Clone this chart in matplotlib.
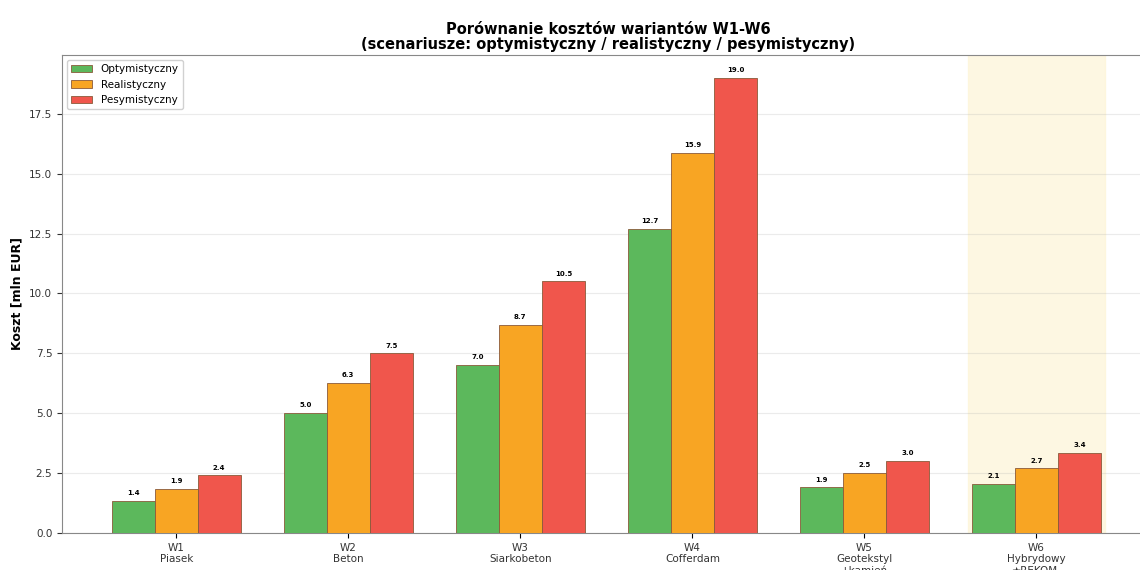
import numpy as np
import matplotlib
matplotlib.use('Agg')
import matplotlib.pyplot as plt

plt.rcParams['font.family'] = ['DejaVu Sans']

# dane
warianty = ['W1\nPiasek', 'W2\nBeton', 'W3\nSiarkobeton', 'W4\nCofferdam',
            'W5\nGeotekstyl\n+kamień', 'W6\nHybrydowy\n★REKOM.']
optymistyczny = [1.35, 5.0, 7.0, 12.7, 1.9, 2.05]
realistyczny = [1.85, 6.25, 8.7, 15.85, 2.5, 2.7]
pesymistyczny = [2.4, 7.5, 10.5, 19.0, 3.0, 3.35]
etykiety_opt = ['1.4', '5.0', '7.0', '12.7', '1.9', '2.1']
etykiety_real = ['1.9', '6.3', '8.7', '15.9', '2.5', '2.7']
etykiety_pes = ['2.4', '7.5', '10.5', '19.0', '3.0', '3.4']

fig = plt.figure(figsize=(11.4, 5.7), dpi=100)
ax = fig.add_axes([62 / 1140, 37 / 570, (1155 - 62) / 1140, (533 - 55) / 570])

x = np.arange(len(warianty))
w = 0.25

ax.axvspan(5 - 0.4, 5 + 0.4, color='#fdf5d6', alpha=0.7, zorder=0)

serie = [
    (optymistyczny, etykiety_opt, '#5cb85c', 'Optymistyczny', -w),
    (realistyczny, etykiety_real, '#f8a523', 'Realistyczny', 0),
    (pesymistyczny, etykiety_pes, '#f0564c', 'Pesymistyczny', w),
]
for vals, labs, kolor, nazwa, off in serie:
    bars = ax.bar(x + off, vals, w, color=kolor, edgecolor='#8a5a3a',
                  linewidth=0.6, label=nazwa, zorder=3)
    for b, t in zip(bars, labs):
        ax.text(b.get_x() + b.get_width() / 2, b.get_height() + 0.2, t,
                ha='center', va='bottom', fontsize=5, fontweight='bold', zorder=4)

ax.set_xticks(x)
ax.set_xticklabels(warianty, fontsize=7.5, color='#333333')
ax.tick_params(axis='y', labelsize=7.5, colors='#333333')
ax.set_ylim(0, 19.95)
ax.set_ylabel('Koszt [mln EUR]', fontsize=9, fontweight='bold')
ax.set_title('Porównanie kosztów wariantów W1-W6\n(scenariusze: optymistyczny / realistyczny / pesymistyczny)',
             fontsize=10.5, fontweight='bold', linespacing=1.0, pad=4)
ax.grid(axis='y', alpha=0.25, zorder=0)
for s in ax.spines.values():
    s.set_color('#888888')
ax.legend(loc='upper left', fontsize=7.5, framealpha=0.9)

fig.savefig('out.png', dpi=100)
